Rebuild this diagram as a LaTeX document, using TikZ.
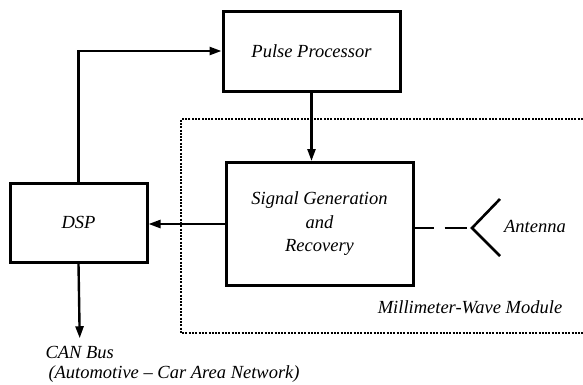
\documentclass[tikz,border=0pt]{standalone}
\usepackage{fontspec}
\setmainfont{Liberation Serif}
\usetikzlibrary{arrows.meta}
\begin{document}
\begin{tikzpicture}[x=1pt, y=-1pt,
    every node/.style={font=\fontsize{18.5}{22}\selectfont\itshape},
    blk/.style={draw, line width=3pt, align=center, inner sep=0pt},
    arr/.style={line width=2.4pt, -{Triangle[length=12pt,width=8pt]}}]
    \useasboundingbox (0,0) rectangle (583,384);

    % Pulse processor
    \node[blk, minimum width=177, minimum height=80] (pulse) at (311.5,51) {Pulse Processor};

    % Millimeter-wave module (open to the right)
    \draw[line width=2.4pt, dash pattern=on 2pt off 1.3pt] (583,119) -- (181,119) -- (181,333) -- (583,333);
    \node (mmw) at (470,307) {Millimeter-Wave Module};

    % Signal generation
    \node[blk, minimum width=187, minimum height=123] (sig) at (319.5,224) {Signal Generation\\[1.5pt] and\\[1.5pt] Recovery};

    % DSP
    \node[blk, minimum width=137, minimum height=79] (dsp) at (78.5,222.5) {DSP};

    % Antenna
    \coordinate (ant) at (472,228);
    \draw[line width=2.6pt] (500,199) -- (ant) -- (500,256);
    \node (antlbl) at (535,226) {Antenna};
    \draw[line width=2.6pt, dash pattern=on 19pt off 11pt on 22pt off 20pt] (sig.east |- ant) -- (ant);

    % CAN bus
    \node[anchor=west] (can) at (42,352) {CAN Bus};
    \node[anchor=west] (net) at (45,374) {(Automotive -- Car Area Network)};

    % Connections
    \draw[arr] (dsp.north) |- (pulse.west);
    \draw[arr] (pulse.south) -- (pulse.south |- sig.north);
    \draw[arr] (sig.west) -- (sig.west -| dsp.east);
    \draw[arr] (dsp.south) -- ([yshift=4pt]can.north);
\end{tikzpicture}
\end{document}
